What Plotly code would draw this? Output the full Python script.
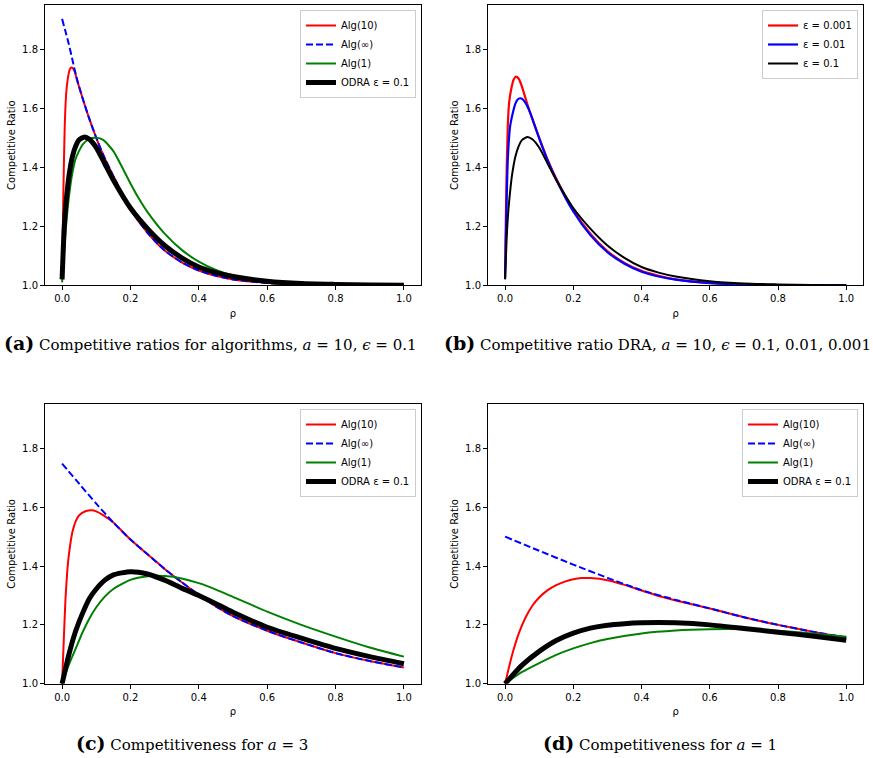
import plotly.graph_objects as go

# ---------------- data ----------------
# Panel (a): a = 10, eps = 0.1
rho_a_alg10 = [0, 0.002, 0.004, 0.006, 0.008, 0.012, 0.018, 0.022, 0.027, 0.032, 0.037, 0.045, 0.05,
               0.06, 0.08, 0.10, 0.12, 0.15, 0.20, 0.25, 0.30, 0.35, 0.40, 0.45, 0.50, 0.60, 0.70, 0.80, 0.90, 1.00]
cr_a_alg10 = [1.02, 1.18, 1.33, 1.45, 1.55, 1.65, 1.71, 1.73, 1.738, 1.735, 1.724, 1.69, 1.672,
              1.634, 1.563, 1.500, 1.443, 1.370, 1.258, 1.178, 1.118, 1.078, 1.050, 1.032, 1.020, 1.008, 1.003, 1.001, 1.000, 1.000]

rho_a_alginf = [0, 0.01, 0.02, 0.03, 0.04, 0.05, 0.06, 0.08, 0.10, 0.12, 0.15, 0.20, 0.25, 0.30, 0.35,
                0.40, 0.45, 0.50, 0.60, 0.70, 0.80, 0.90, 1.00]
cr_a_alginf = [1.903, 1.860, 1.816, 1.765, 1.715, 1.672, 1.634, 1.563, 1.500, 1.443, 1.370, 1.258, 1.178,
               1.118, 1.078, 1.050, 1.032, 1.020, 1.008, 1.003, 1.001, 1.000, 1.000]

rho_a_alg1 = [0, 0.005, 0.01, 0.02, 0.03, 0.04, 0.06, 0.08, 0.10, 0.12, 0.15, 0.175, 0.20, 0.225, 0.25,
              0.30, 0.35, 0.40, 0.45, 0.50, 0.60, 0.70, 0.80, 0.90, 1.00]
cr_a_alg1 = [1.01, 1.10, 1.18, 1.30, 1.38, 1.43, 1.477, 1.496, 1.500, 1.493, 1.455, 1.402, 1.345, 1.293,
             1.248, 1.175, 1.120, 1.080, 1.052, 1.033, 1.013, 1.005, 1.002, 1.001, 1.000]

rho_odra_a10 = [0, 0.003, 0.006, 0.01, 0.015, 0.02, 0.03, 0.04, 0.05, 0.066, 0.08, 0.10, 0.125, 0.15,
                0.20, 0.25, 0.30, 0.35, 0.40, 0.45, 0.50, 0.60, 0.70, 0.80, 0.90, 1.00]
cr_odra_a10 = [1.02, 1.11, 1.19, 1.26, 1.32, 1.37, 1.435, 1.472, 1.493, 1.503, 1.495, 1.467, 1.412, 1.357,
               1.262, 1.192, 1.135, 1.093, 1.062, 1.043, 1.030, 1.014, 1.006, 1.003, 1.001, 1.000]

# Panel (b): DRA, a = 10, eps = 0.001 / 0.01 / 0.1
rho_b_e0001 = [0, 0.002, 0.004, 0.008, 0.012, 0.0175, 0.025, 0.032, 0.04, 0.05, 0.06, 0.08, 0.10, 0.125,
               0.15, 0.20, 0.25, 0.30, 0.35, 0.40, 0.45, 0.50, 0.60, 0.70, 0.80, 0.90, 1.00]
cr_b_e0001 = [1.024, 1.20, 1.35, 1.54, 1.62, 1.662, 1.697, 1.707, 1.700, 1.672, 1.634, 1.563, 1.500, 1.425,
              1.362, 1.255, 1.175, 1.116, 1.076, 1.049, 1.032, 1.020, 1.008, 1.003, 1.001, 1.000, 1.000]

rho_b_e001 = [0, 0.002, 0.004, 0.008, 0.015, 0.0225, 0.03, 0.037, 0.044, 0.05, 0.06, 0.07, 0.08, 0.10,
              0.125, 0.15, 0.20, 0.25, 0.30, 0.35, 0.40, 0.45, 0.50, 0.60, 0.70, 0.80, 0.90, 1.00]
cr_b_e001 = [1.024, 1.14, 1.25, 1.425, 1.54, 1.583, 1.615, 1.630, 1.634, 1.632, 1.618, 1.595, 1.565, 1.498,
             1.422, 1.358, 1.250, 1.170, 1.112, 1.073, 1.046, 1.030, 1.019, 1.007, 1.003, 1.001, 1.000, 1.000]

# Panel (c): a = 3
rho_c_alg10 = [0, 0.005, 0.01, 0.015, 0.02, 0.03, 0.04, 0.05, 0.07, 0.086, 0.10, 0.12, 0.15, 0.20, 0.25,
               0.30, 0.35, 0.40, 0.45, 0.50, 0.60, 0.70, 0.80, 0.90, 1.00]
cr_c_alg10 = [1.00, 1.15, 1.29, 1.38, 1.44, 1.515, 1.553, 1.573, 1.587, 1.590, 1.586, 1.573, 1.548, 1.490,
              1.440, 1.390, 1.345, 1.302, 1.263, 1.230, 1.180, 1.140, 1.104, 1.077, 1.055]

rho_c_alginf = [0, 0.05, 0.10, 0.15, 0.20, 0.25, 0.30, 0.35, 0.40, 0.45, 0.50, 0.60, 0.70, 0.80, 0.90, 1.00]
cr_c_alginf = [1.748, 1.680, 1.612, 1.548, 1.490, 1.440, 1.390, 1.345, 1.302, 1.263, 1.230, 1.180, 1.140,
               1.104, 1.077, 1.055]

rho_c_alg1 = [0, 0.02, 0.04, 0.06, 0.08, 0.10, 0.125, 0.15, 0.20, 0.25, 0.30, 0.35, 0.40, 0.45, 0.50,
              0.60, 0.70, 0.80, 0.90, 1.00]
cr_c_alg1 = [1.00, 1.065, 1.12, 1.175, 1.222, 1.26, 1.296, 1.322, 1.353, 1.365, 1.366, 1.358, 1.342, 1.320,
             1.295, 1.245, 1.200, 1.160, 1.123, 1.092]

rho_c_odra = [0, 0.02, 0.04, 0.06, 0.08, 0.10, 0.125, 0.15, 0.20, 0.25, 0.30, 0.35, 0.40, 0.45, 0.50,
              0.60, 0.70, 0.80, 0.90, 1.00]
cr_c_odra = [1.00, 1.10, 1.18, 1.24, 1.29, 1.322, 1.352, 1.370, 1.381, 1.373, 1.352, 1.325, 1.300, 1.272,
             1.243, 1.192, 1.155, 1.120, 1.092, 1.068]

# Panel (d): a = 1
rho_d_alg10 = [0, 0.02, 0.04, 0.06, 0.08, 0.10, 0.125, 0.15, 0.175, 0.20, 0.225, 0.25, 0.30, 0.35, 0.40,
               0.45, 0.50, 0.60, 0.70, 0.80, 0.90, 1.00]
cr_d_alg10 = [1.00, 1.095, 1.17, 1.225, 1.265, 1.293, 1.318, 1.335, 1.347, 1.355, 1.359, 1.359, 1.352,
              1.336, 1.317, 1.298, 1.283, 1.256, 1.226, 1.200, 1.177, 1.157]

rho_d_alginf = [0, 0.10, 0.20, 0.30, 0.40, 0.50, 0.60, 0.70, 0.80, 0.90, 1.00]
cr_d_alginf = [1.500, 1.452, 1.405, 1.360, 1.318, 1.285, 1.256, 1.226, 1.200, 1.177, 1.157]

rho_d_alg1 = [0, 0.05, 0.10, 0.15, 0.20, 0.25, 0.30, 0.40, 0.50, 0.60, 0.70, 0.80, 0.90, 1.00]
cr_d_alg1 = [1.00, 1.04, 1.07, 1.098, 1.12, 1.138, 1.152, 1.171, 1.181, 1.185, 1.185, 1.180, 1.171, 1.160]

rho_d_odra = [0, 0.05, 0.10, 0.15, 0.20, 0.25, 0.30, 0.35, 0.40, 0.45, 0.50, 0.60, 0.70, 0.80, 0.90, 1.00]
cr_d_odra = [1.00, 1.063, 1.11, 1.147, 1.172, 1.189, 1.199, 1.204, 1.207, 1.208, 1.207, 1.200, 1.188,
             1.175, 1.162, 1.148]

x_ticks = [0.0, 0.2, 0.4, 0.6, 0.8, 1.0]
x_ticklabels = ["0.0", "0.2", "0.4", "0.6", "0.8", "1.0"]
y_ticks = [1.0, 1.2, 1.4, 1.6, 1.8]
y_ticklabels = ["1.0", "1.2", "1.4", "1.6", "1.8"]

name_alg10 = "Alg(10)"
name_alginf = "Alg(∞)"
name_alg1 = "Alg(1)"
name_odra = "ODRA ε = 0.1"
names_b = ["ε = 0.001", "ε = 0.01", "ε = 0.1"]

caption_tags = ["(a)", "(b)", "(c)", "(d)"]
caption_texts = [
    "Competitive ratios for algorithms, <i>a</i> = 10, <i>ϵ</i> = 0.1",
    "Competitive ratio DRA, <i>a</i> = 10, <i>ϵ</i> = 0.1, 0.01, 0.001",
    "Competitiveness for <i>a</i> = 3",
    "Competitiveness for <i>a</i> = 1",
]

# ---------------- figure ----------------
W, H = 873, 758
RED, BLUE, GREEN, BLACK = "#ff0000", "#0000ff", "#008000", "#000000"
SMOOTH = 0.6

fig = go.Figure()

def add(x, y, name, color, width, dash, ax, legend):
    fig.add_trace(go.Scatter(
        x=x, y=y, name=name, mode="lines",
        line=dict(color=color, width=width, dash=dash, shape="spline", smoothing=SMOOTH),
        xaxis="x" + ("" if ax == 1 else str(ax)),
        yaxis="y" + ("" if ax == 1 else str(ax)),
        legend=legend, hoverinfo="skip"))

DASH = "7px,3px"
# (a)
add(rho_a_alg10, cr_a_alg10, name_alg10, RED, 2, "solid", 1, "legend")
add(rho_a_alginf, cr_a_alginf, name_alginf, BLUE, 2, DASH, 1, "legend")
add(rho_a_alg1, cr_a_alg1, name_alg1, GREEN, 2, "solid", 1, "legend")
add(rho_odra_a10, cr_odra_a10, name_odra, BLACK, 5, "solid", 1, "legend")
# (b)
add(rho_b_e0001, cr_b_e0001, names_b[0], RED, 2.2, "solid", 2, "legend2")
add(rho_b_e001, cr_b_e001, names_b[1], BLUE, 2.2, "solid", 2, "legend2")
add(rho_odra_a10, cr_odra_a10, names_b[2], BLACK, 2, "solid", 2, "legend2")
# (c)
add(rho_c_alg10, cr_c_alg10, name_alg10, RED, 2, "solid", 3, "legend3")
add(rho_c_alginf, cr_c_alginf, name_alginf, BLUE, 2, DASH, 3, "legend3")
add(rho_c_alg1, cr_c_alg1, name_alg1, GREEN, 2, "solid", 3, "legend3")
add(rho_c_odra, cr_c_odra, name_odra, BLACK, 5, "solid", 3, "legend3")
# (d)
add(rho_d_alg10, cr_d_alg10, name_alg10, RED, 2, "solid", 4, "legend4")
add(rho_d_alginf, cr_d_alginf, name_alginf, BLUE, 2, DASH, 4, "legend4")
add(rho_d_alg1, cr_d_alg1, name_alg1, GREEN, 2, "solid", 4, "legend4")
add(rho_d_odra, cr_d_odra, name_odra, BLACK, 5, "solid", 4, "legend4")

TICKFONT = dict(family="DejaVu Sans", size=10, color="#000000")

def xax(domain, anchor):
    return dict(domain=domain, anchor=anchor, range=[-0.05, 1.05], automargin=False,
                tickvals=x_ticks, ticktext=x_ticklabels, ticks="outside", ticklen=4, tickwidth=1,
                tickcolor="black", showline=True, linecolor="black", linewidth=1, mirror=True,
                showgrid=False, zeroline=False, tickfont=TICKFONT,
                title=dict(text="ρ", font=dict(family="DejaVu Sans", size=10, color="black"), standoff=6))

def yax(domain, anchor):
    return dict(domain=domain, anchor=anchor, range=[1.0, 1.95], automargin=False,
                tickvals=y_ticks, ticktext=y_ticklabels, ticks="outside", ticklen=4, tickwidth=1,
                tickcolor="black", showline=True, linecolor="black", linewidth=1, mirror=True,
                showgrid=False, zeroline=False, tickfont=TICKFONT,
                title=dict(text="Competitive Ratio", font=dict(family="DejaVu Sans", size=10, color="black"),
                           standoff=4))

L1 = [45 / W, 421 / W]
L2 = [488 / W, 863.3 / W]
TOP = [1 - 285.3 / H, 1 - 5 / H]
BOT = [1 - 683.7 / H, 1 - 404.3 / H]

def legend(xr, yt):
    return dict(x=xr / W, y=1 - yt / H, xanchor="right", yanchor="top",
                bgcolor="rgba(255,255,255,0.8)", bordercolor="#cccccc", borderwidth=1,
                font=dict(family="DejaVu Sans", size=10, color="black"), itemwidth=30,
                tracegroupgap=0)

fig.update_layout(
    width=W, height=H, autosize=False,
    margin=dict(l=0, r=0, t=0, b=0),
    paper_bgcolor="white", plot_bgcolor="white",
    showlegend=True,
    xaxis=xax(L1, "y"), yaxis=yax(TOP, "x"),
    xaxis2=xax(L2, "y2"), yaxis2=yax(TOP, "x2"),
    xaxis3=xax(L1, "y3"), yaxis3=yax(BOT, "x3"),
    xaxis4=xax(L2, "y4"), yaxis4=yax(BOT, "x4"),
    legend=legend(416, 10),
    legend2=legend(858, 10),
    legend3=legend(416, 409),
    legend4=legend(858, 409),
)

cap_pos = [(210, 343), (657, 343), (192, 743), (660, 743)]
for tag, text, (cx, cy) in zip(caption_tags, caption_texts, cap_pos):
    fig.add_annotation(text=f"<span style='font-size:19px'><b>{tag}</b></span> {text}",
                       xref="paper", yref="paper", x=cx / W, y=1 - cy / H,
                       xanchor="center", yanchor="middle", showarrow=False,
                       font=dict(family="DejaVu Serif", size=15, color="black"))

fig.write_html("out.html", config={"displayModeBar": False},
               post_script="document.body.style.margin='0';")
